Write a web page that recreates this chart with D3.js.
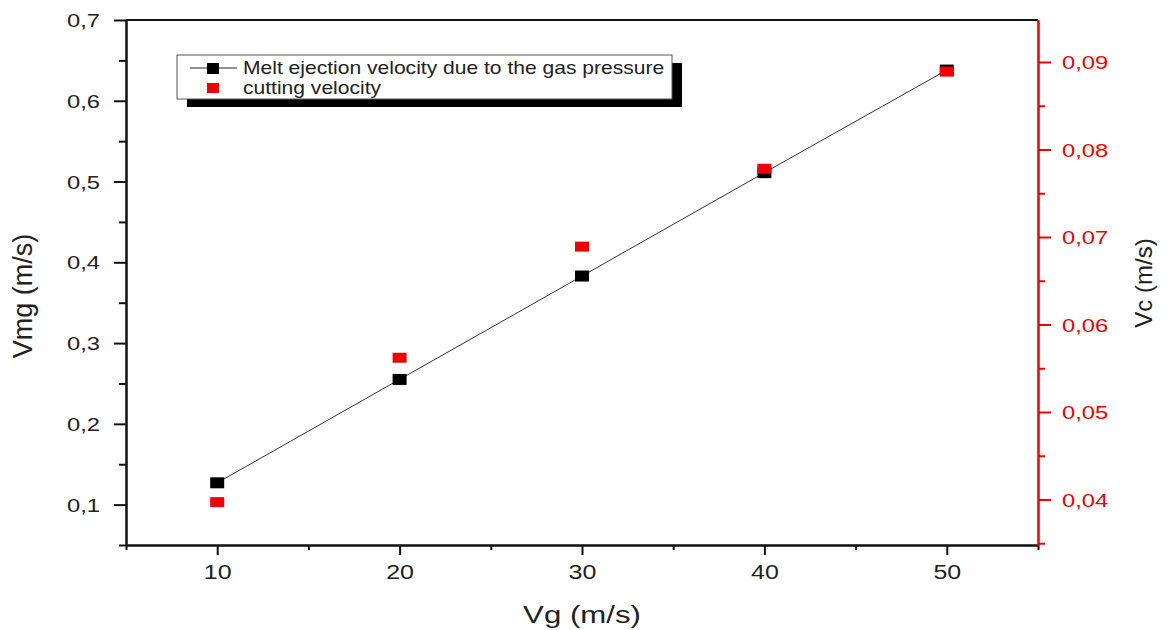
<!DOCTYPE html>
<html>
<head>
<meta charset="utf-8">
<script src="https://cdn.jsdelivr.net/npm/d3@7"></script>
<style>
  body { margin: 0; background: #fff; }
  text { font-family: "Liberation Sans", Arial, sans-serif; }
</style>
</head>
<body>
<div id="chart"></div>
<script>
// data
var vg = [10, 20, 30, 40, 50];
var vmg = [0.127, 0.255, 0.383, 0.511, 0.638];
var vc = [0.0397, 0.0562, 0.0689, 0.0778, 0.0889];

var xTicks = [10, 20, 30, 40, 50];
var xMinor = [5, 15, 25, 35, 45, 55];
var yLTicks = [0.1, 0.2, 0.3, 0.4, 0.5, 0.6, 0.7];
var yLMinor = [0.05, 0.15, 0.25, 0.35, 0.45, 0.55, 0.65];
var yRTicks = [0.04, 0.05, 0.06, 0.07, 0.08, 0.09];
var yRMinor = [0.035, 0.045, 0.055, 0.065, 0.075, 0.085];

var legendLabels = ["Melt ejection velocity due to the gas pressure", "cutting velocity"];

var W = 1170, H = 630;
var plotL = 126, plotR = 1038, plotT = 20, plotB = 545;
var sx = 1.25; // the picture's text is a bit wide
var red = "#f00000";

var x = d3.scaleLinear().domain([5, 55]).range([plotL, plotR]);
var yL = d3.scaleLinear().domain([0.05, 0.7]).range([plotB, plotT]);
var yR = d3.scaleLinear().domain([0.0348, 0.0948]).range([plotB, plotT]);

var comma = function (f) {
  return function (d) { return d3.format(f)(d).replace('.', ','); };
};

var svg = d3.select('#chart').append('svg')
  .attr('width', W).attr('height', H);

svg.append('rect').attr('width', W).attr('height', H).attr('fill', '#fff');

// top border
svg.append('line')
  .attr('x1', plotL).attr('x2', plotR).attr('y1', plotT).attr('y2', plotT)
  .attr('stroke', '#111').attr('stroke-width', 2);

// left axis
var gL = svg.append('g').attr('transform', 'translate(' + plotL + ',0)');
gL.call(d3.axisLeft(yL).tickValues(yLTicks).tickSize(12).tickSizeOuter(0).tickFormat(comma('.1f')));
gL.append('g').call(d3.axisLeft(yL).tickValues(yLMinor).tickSize(7).tickSizeOuter(0).tickFormat(''));
gL.selectAll('path.domain').attr('stroke', '#111').attr('stroke-width', 2);
gL.selectAll('line').attr('stroke', '#111').attr('stroke-width', 2);
gL.selectAll('text')
  .attr('x', -26 / sx).attr('dy', '0.35em')
  .attr('transform', 'scale(' + sx + ',1)')
  .attr('font-size', 19).attr('fill', '#222');

// bottom axis
var gB = svg.append('g').attr('transform', 'translate(0,' + plotB + ')');
gB.call(d3.axisBottom(x).tickValues(xTicks).tickSize(10).tickSizeOuter(0));
gB.append('g').call(d3.axisBottom(x).tickValues(xMinor).tickSize(5).tickSizeOuter(0).tickFormat(''));
gB.selectAll('path.domain').attr('stroke', '#111').attr('stroke-width', 2);
gB.selectAll('line').attr('stroke', '#111').attr('stroke-width', 2);
gB.selectAll('text')
  .attr('y', 20).attr('dy', '0.71em').attr('x', 0)
  .attr('transform', 'scale(' + sx + ',1)')
  .attr('font-size', 20).attr('fill', '#222');

// right axis
var gR = svg.append('g').attr('transform', 'translate(' + plotR + ',0)');
gR.call(d3.axisRight(yR).tickValues(yRTicks).tickSize(13).tickSizeOuter(0).tickFormat(comma('.2f')));
gR.append('g').call(d3.axisRight(yR).tickValues(yRMinor).tickSize(7).tickSizeOuter(0).tickFormat(''));
gR.selectAll('path.domain').attr('stroke', red).attr('stroke-width', 2);
gR.selectAll('line').attr('stroke', red).attr('stroke-width', 2);
gR.selectAll('text')
  .attr('x', 24 / sx).attr('dy', '0.35em')
  .attr('transform', 'scale(' + sx + ',1)')
  .attr('font-size', 19).attr('fill', red);

// axis titles
svg.append('text')
  .attr('transform', 'translate(582,623) scale(1.3,1)')
  .attr('text-anchor', 'middle')
  .attr('font-size', 24).attr('fill', '#222')
  .text('Vg (m/s)');

svg.append('text')
  .attr('transform', 'translate(32,296) rotate(-90)')
  .attr('text-anchor', 'middle')
  .attr('font-size', 27).attr('fill', '#222')
  .text('Vmg (m/s)');

svg.append('text')
  .attr('transform', 'translate(1152,283) rotate(-90)')
  .attr('text-anchor', 'middle')
  .attr('font-size', 24).attr('fill', '#222')
  .text('Vc (m/s)');

// line through the melt ejection points
var pts = vg.map(function (d, i) { return [d, vmg[i]]; });
svg.append('path')
  .datum(pts)
  .attr('fill', 'none')
  .attr('stroke', '#333')
  .attr('stroke-width', 1)
  .attr('d', d3.line().x(function (d) { return x(d[0]); }).y(function (d) { return yL(d[1]); }));

var mw = 14, mh = 11;

svg.append('g').selectAll('rect')
  .data(pts)
  .enter().append('rect')
  .attr('x', function (d) { return x(d[0]) - mw / 2; })
  .attr('y', function (d) { return yL(d[1]) - mh / 2; })
  .attr('width', mw).attr('height', mh)
  .attr('fill', '#000');

svg.append('g').selectAll('rect')
  .data(vg.map(function (d, i) { return [d, vc[i]]; }))
  .enter().append('rect')
  .attr('x', function (d) { return x(d[0]) - mw / 2; })
  .attr('y', function (d) { return yR(d[1]) - 5; })
  .attr('width', mw).attr('height', 10)
  .attr('fill', red);

// legend
var lg = svg.append('g');
lg.append('rect').attr('x', 187).attr('y', 63).attr('width', 495).attr('height', 44).attr('fill', '#000');
lg.append('rect').attr('x', 177).attr('y', 55).attr('width', 495).attr('height', 44)
  .attr('fill', '#fff').attr('stroke', '#555').attr('stroke-width', 1);

lg.append('line').attr('x1', 190).attr('x2', 237).attr('y1', 68).attr('y2', 68)
  .attr('stroke', '#222').attr('stroke-width', 1);
lg.append('rect').attr('x', 207).attr('y', 63).attr('width', 12).attr('height', 11).attr('fill', '#000');
lg.append('rect').attr('x', 207).attr('y', 83).attr('width', 12).attr('height', 10).attr('fill', red);

lg.selectAll('text.lab')
  .data(legendLabels)
  .enter().append('text')
  .attr('class', 'lab')
  .attr('transform', function (d, i) { return 'translate(243,' + (68 + i * 20) + ') scale(1.17,1)'; })
  .attr('dy', '0.35em')
  .attr('font-size', 18).attr('fill', '#222')
  .text(function (d) { return d; });
</script>
</body>
</html>
